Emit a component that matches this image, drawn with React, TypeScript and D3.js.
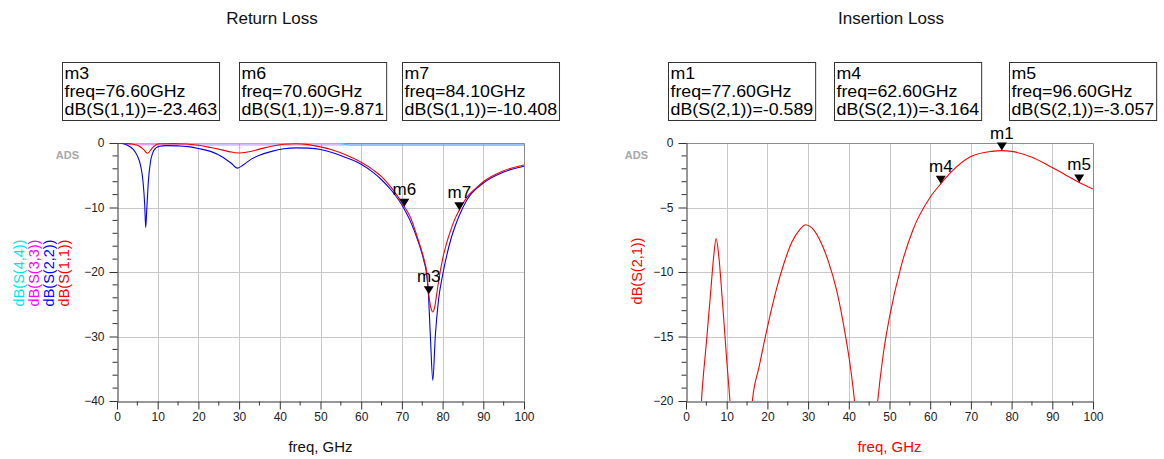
import { useEffect, useRef } from "react"
import * as d3 from "d3"

// ---- data (freq in GHz, values in dB) ----
const xTicks = [0, 10, 20, 30, 40, 50, 60, 70, 80, 90, 100]
const rlYTicks = [0, -10, -20, -30, -40]
const ilYTicks = [0, -5, -10, -15, -20]

const s11Freq = [0, 2, 4, 5.5, 6.5, 7.5, 8.5, 9.5, 10.5, 14, 17, 20, 23, 26, 28, 30, 32, 35, 38, 41, 44, 47, 50, 53, 56, 60, 63, 65, 67.5, 70.6, 72, 74, 75.5, 76.1, 76.6, 77.1, 77.6, 78.1, 78.6, 79.4, 80, 81, 82, 83, 84.1, 86, 88, 90, 95, 100]
const s11Db = [0, -0.05, -0.2, -0.5, -1.0, -1.6, -0.9, -0.3, -0.12, -0.1, -0.15, -0.35, -0.7, -1.1, -1.4, -1.55, -1.4, -0.95, -0.5, -0.2, -0.12, -0.25, -0.6, -1.1, -1.8, -3.0, -4.2, -5.2, -7.0, -9.871, -11.4, -15.0, -18.2, -20, -23.463, -25.5, -26.2, -25.3, -23.2, -20, -18.0, -15.5, -13.5, -11.8, -10.408, -8.4, -7.1, -6.0, -4.3, -3.4]

const s22Freq = [0, 1, 2, 3, 4, 5, 5.8, 6.4, 6.8, 7.05, 7.3, 7.7, 8.2, 8.8, 9.5, 10.5, 12, 15, 18, 20, 23, 26, 28, 29.6, 31, 33, 35, 38, 41, 44, 47, 50, 53, 56, 60, 63, 65, 67.5, 70, 72, 74, 75.5, 76, 76.5, 77, 77.6, 78.2, 79, 80, 82, 84, 86, 90, 95, 100]
const s22Db = [0, -0.05, -0.2, -0.5, -1.0, -2.0, -3.5, -6.0, -9.5, -13.1, -10.5, -6.0, -3.0, -1.5, -0.8, -0.5, -0.4, -0.45, -0.6, -0.85, -1.3, -2.2, -3.1, -3.9, -3.4, -2.5, -1.9, -1.3, -0.9, -0.75, -0.8, -1.0, -1.5, -2.2, -3.3, -4.6, -5.7, -7.4, -9.6, -12.0, -15.3, -18.5, -20, -23.3, -30, -36.8, -30, -24.3, -20.5, -15.0, -11.4, -8.8, -6.2, -4.5, -3.6]

const s33Freq = [0, 2, 4, 20, 40, 56, 70, 85, 100]
const s33Db = [0, -0.15, -0.28, -0.3, -0.3, -0.3, -0.31, -0.31, -0.32]

const s44Freq = [0, 3, 20, 40, 55, 57, 70, 85, 100]
const s44Db = [0, -0.08, -0.1, -0.1, -0.1, -0.3, -0.31, -0.31, -0.32]

const s21Freq = [3.0, 3.8, 5, 6, 6.8, 7.4, 8, 9, 10, 10.8, 11.5, 13, 15.5, 16.3, 18, 20, 22, 24, 26, 28, 29.4, 31, 33, 35, 37, 39, 40.5, 41.4, 42, 44, 46.5, 47.1, 48.5, 50, 52.9, 55.8, 60, 62.6, 65, 70, 75, 77.6, 80, 85, 90, 96.6, 100]
const s21Db = [-25, -20, -15.5, -11.8, -8.8, -7.4, -8.6, -12.5, -16.8, -20, -23, -30, -23, -20, -17.3, -14.3, -11.6, -9.4, -7.7, -6.7, -6.34, -6.6, -7.6, -9.2, -11.4, -14.6, -17.6, -20, -22, -30, -22, -20, -16.3, -13.5, -9.5, -6.7, -4.2, -3.164, -2.3, -1.05, -0.65, -0.589, -0.65, -1.1, -1.9, -3.057, -3.57]

const rlMarkerNames = ["m3", "m6", "m7"]
const rlMarkerFreq = [76.6, 70.6, 84.1]
const rlMarkerDb = [-23.463, -9.871, -10.408]

const ilMarkerNames = ["m1", "m4", "m5"]
const ilMarkerFreq = [77.6, 62.6, 96.6]
const ilMarkerDb = [-0.589, -3.164, -3.057]

const FONT = "'Liberation Sans', Arial, Helvetica, sans-serif"

const drawPanel = (svg, o) => {
  const x = d3.scaleLinear().domain([0, 100]).range([o.left, o.right])
  const y = d3.scaleLinear().domain([o.yTicks[o.yTicks.length - 1], 0]).range([o.bottom, o.top])
  const g = svg.append("g")

  g.append("text")
    .attr("x", o.titleX).attr("y", 24)
    .attr("text-anchor", "middle")
    .attr("font-size", 17).attr("fill", "#111")
    .text(o.title)

  // grid
  g.append("g").selectAll("line").data(xTicks.slice(1, -1)).join("line")
    .attr("x1", (d) => Math.round(x(d)) + 0.5).attr("x2", (d) => Math.round(x(d)) + 0.5)
    .attr("y1", o.top).attr("y2", o.bottom)
    .attr("stroke", "#c8c8c8")
  g.append("g").selectAll("line").data(o.yTicks.slice(1, -1)).join("line")
    .attr("y1", (d) => Math.round(y(d)) + 0.5).attr("y2", (d) => Math.round(y(d)) + 0.5)
    .attr("x1", o.left).attr("x2", o.right)
    .attr("stroke", "#c8c8c8")

  // frame top / right
  g.append("path")
    .attr("d", `M${o.left},${o.top + 0.5}H${o.right + 0.5}V${o.bottom}`)
    .attr("fill", "none").attr("stroke", "#8c8c8c")

  // x axis
  const minorX = d3.range(5, 100, 10)
  const xAxis = g.append("g").attr("transform", `translate(0,${o.bottom + 0.5})`)
  xAxis.call(d3.axisBottom(x).tickValues(xTicks).tickSize(8).tickSizeOuter(0).tickPadding(3))
  xAxis.append("g").selectAll("line").data(minorX).join("line")
    .attr("x1", (d) => x(d)).attr("x2", (d) => x(d)).attr("y1", 0).attr("y2", 4)
    .attr("stroke", "#333")

  // y axis
  const yMin = o.yTicks[o.yTicks.length - 1]
  const minorY = d3.range(0, yMin, -o.minorStep).filter((v) => !o.yTicks.includes(v))
  const yAxis = g.append("g").attr("transform", `translate(${o.left + 0.5},0)`)
  yAxis.call(d3.axisLeft(y).tickValues(o.yTicks).tickSize(8).tickSizeOuter(0).tickPadding(5))
  yAxis.append("g").selectAll("line").data(minorY).join("line")
    .attr("y1", (d) => y(d)).attr("y2", (d) => y(d)).attr("x1", 0).attr("x2", -5)
    .attr("stroke", "#333")

  svg.selectAll(".domain, .tick line").attr("stroke", "#333")
  svg.selectAll(".tick text").attr("font-family", FONT).attr("font-size", 12).attr("fill", "#222")

  g.append("text")
    .attr("x", o.left - 38).attr("y", 159)
    .attr("text-anchor", "end")
    .attr("font-size", 11).attr("font-weight", "bold").attr("fill", "#a8a8a8")
    .text("ADS")

  // y labels (rotated)
  o.yLabels.forEach((l) => {
    g.append("text")
      .attr("transform", `translate(${l.x},${o.labelY}) rotate(-90)`)
      .attr("text-anchor", "middle")
      .attr("font-size", 14.5).attr("fill", l.color)
      .text(l.text)
  })

  g.append("text")
    .attr("x", (o.left + o.right) / 2).attr("y", 452)
    .attr("text-anchor", "middle")
    .attr("font-size", 15).attr("fill", o.xLabelColor)
    .text("freq, GHz")

  // traces
  const clipId = `clip-${o.id}`
  svg.append("defs").append("clipPath").attr("id", clipId)
    .append("rect")
    .attr("x", o.left).attr("y", o.top)
    .attr("width", o.right - o.left).attr("height", o.bottom - o.top)

  const line = d3.line()
    .x((d) => x(d[0]))
    .y((d) => y(d[1]))
    .curve(d3.curveMonotoneX)

  const traces = g.append("g").attr("clip-path", `url(#${clipId})`)
  o.series.forEach((s) => {
    traces.append("path")
      .attr("d", line(d3.zip(s.freq, s.db)))
      .attr("fill", "none")
      .attr("stroke", s.color)
      .attr("stroke-opacity", s.opacity ?? 1)
      .attr("stroke-width", 1.1)
  })

  // markers
  o.markers.names.forEach((name, i) => {
    const px = x(o.markers.freq[i])
    const py = y(o.markers.db[i])
    g.append("path")
      .attr("d", `M${px},${py}L${px - 5},${py - 8}L${px + 5},${py - 8}Z`)
      .attr("fill", "#000")
    g.append("text")
      .attr("x", px).attr("y", py - 12)
      .attr("text-anchor", "middle")
      .attr("font-size", 17).attr("fill", "#000")
      .text(name)

    // readout box: slightly narrow font stretched wide, so lines don't collide
    const bx = o.boxX[i]
    const box = g.append("g")
    const lines = [
      name,
      `freq=${o.markers.freq[i].toFixed(2)}GHz`,
      `${o.readName}=${o.markers.db[i].toFixed(3)}`,
    ]
    const texts = lines.map((t, k) => {
      const el = box.append("text")
        .attr("x", bx + 2.5).attr("y", 62 + 16.8 + k * 18)
        .attr("font-size", 16).attr("fill", "#000")
        .text(t)
      const len = el.node().getComputedTextLength() * 1.11
      el.attr("textLength", len).attr("lengthAdjust", "spacingAndGlyphs")
      return len
    })
    const w = d3.max(texts) + 4.5
    box.insert("rect", "text")
      .attr("x", bx + 0.5).attr("y", 62.5)
      .attr("width", w).attr("height", 58)
      .attr("fill", "#fff").attr("stroke", "#333")
  })
}

const App = () => {
  const ref = useRef(null)

  useEffect(() => {
    const svg = d3.select(ref.current)
    svg.selectAll("*").remove()

    drawPanel(svg, {
      id: "rl",
      title: "Return Loss",
      titleX: 272,
      left: 117, right: 524, top: 143, bottom: 401,
      yTicks: rlYTicks,
      minorStep: 2,
      labelY: 273,
      yLabels: [
        { text: "dB(S(4,4))", color: "#00e5e5", x: 24 },
        { text: "dB(S(3,3))", color: "#ff00ff", x: 39 },
        { text: "dB(S(2,2))", color: "#0000ff", x: 54 },
        { text: "dB(S(1,1))", color: "#ff0000", x: 68.5 },
      ],
      xLabelColor: "#111",
      series: [
        { freq: s44Freq, db: s44Db, color: "#00ffff" },
        { freq: s33Freq, db: s33Db, color: "#ff00ff", opacity: 0.5 },
        { freq: s22Freq, db: s22Db, color: "#0000ff" },
        { freq: s11Freq, db: s11Db, color: "#ff0000" },
      ],
      markers: { names: rlMarkerNames, freq: rlMarkerFreq, db: rlMarkerDb },
      readName: "dB(S(1,1))",
      boxX: [62, 239, 402],
    })

    drawPanel(svg, {
      id: "il",
      title: "Insertion Loss",
      titleX: 891,
      left: 686, right: 1093, top: 143, bottom: 401,
      yTicks: ilYTicks,
      minorStep: 1,
      labelY: 271,
      yLabels: [{ text: "dB(S(2,1))", color: "#ff0000", x: 642 }],
      xLabelColor: "#ff0000",
      series: [{ freq: s21Freq, db: s21Db, color: "#ff0000" }],
      markers: { names: ilMarkerNames, freq: ilMarkerFreq, db: ilMarkerDb },
      readName: "dB(S(2,1))",
      boxX: [668, 834, 1009],
    })
  }, [])

  return (
    <>
      <style>{"body{margin:0}"}</style>
      <svg
        ref={ref}
        width={1164}
        height={459}
        viewBox="0 0 1164 459"
        style={{ display: "block", background: "#fff", fontFamily: FONT }}
      />
    </>
  )
}

export default App
